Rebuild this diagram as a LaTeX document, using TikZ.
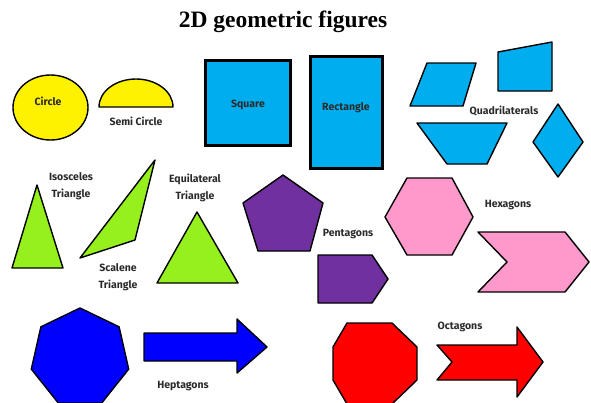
\documentclass[tikz,border=0pt]{standalone}
\usepackage{fontspec}
\setmainfont{Liberation Serif}
\newfontfamily\figfont{Fira Sans}
\definecolor{FIGyellow}{HTML}{FFF200}
\definecolor{FIGsky}{HTML}{00AEEF}
\definecolor{FIGlime}{HTML}{96F01E}
\definecolor{FIGpurple}{HTML}{7030A0}
\definecolor{FIGpink}{HTML}{FF99CC}
\definecolor{FIGblue}{HTML}{0000FF}
\definecolor{FIGred}{HTML}{FF0000}
\definecolor{FIGtext}{HTML}{2A2A2A}
\usetikzlibrary{positioning}

\begin{document}
\begin{tikzpicture}[x=1pt, y=-1pt,
      fig/.style={draw=black, line width=1.4pt, line join=round},
      thickfig/.style={fig, line width=3pt, line join=miter},
      lbl/.style={font=\figfont\bfseries\fontsize{10.5}{17}\selectfont, text=FIGtext, align=center, inner sep=1pt}]
      \useasboundingbox (0,0) rectangle (591,402);
      \clip (0,0) rectangle (591,402);
      % Title
      \node[font=\bfseries\fontsize{23.5}{26}\selectfont] (title) at (283,22) {2D geometric figures};
      % Row 1: circles and quadrilaterals
      \draw[fig, fill=FIGyellow] (50.5,107.5) ellipse [x radius=37.5pt, y radius=32.5pt];
      \draw[fig, fill=FIGyellow] (99,107) arc [start angle=180, end angle=0, x radius=37pt, y radius=28pt] -- cycle;
      \draw[thickfig, fill=FIGsky] (205,60) rectangle (290,145);
      \draw[thickfig, fill=FIGsky] (310,56) rectangle (382,168);
      \draw[fig, fill=FIGsky] (410,106) -- (427,63) -- (476,63) -- (463,106) -- cycle;
      \draw[fig, fill=FIGsky] (498,52) -- (552,42) -- (552,91) -- (498,91) -- cycle;
      \draw[fig, fill=FIGsky] (417,123) -- (507,123) -- (487,164) -- (447,164) -- cycle;
      \draw[fig, fill=FIGsky] (558,104) -- (583,142) -- (558,177) -- (533,142) -- cycle;
      \node[lbl] (circle) at (48,101) {Circle};
      \node[lbl] (semi) at (136,121) {Semi Circle};
      \node[lbl] (square) at (248,105) {Square};
      \node[lbl] (rect) at (346,108) {Rectangle};
      \node[lbl] (quad) at (504,111) {Quadrilaterals};
      % Row 2: triangles, pentagons, hexagons
      \draw[fig, fill=FIGlime] (37,185) -- (63,268) -- (12,268) -- cycle;
      \draw[fig, fill=FIGlime] (155,160) -- (135,240) -- (80,258) -- cycle;
      \draw[fig, fill=FIGlime] (197,212) -- (238,283) -- (157,283) -- cycle;
      \draw[fig, fill=FIGpurple] (283,175) -- (323,203) -- (310,251) -- (258,251) -- (243,203) -- cycle;
      \draw[fig, fill=FIGpurple] (318,255) -- (372,255) -- (388,279) -- (372,303) -- (318,303) -- cycle;
      \draw[fig, fill=FIGpink] (407,178) -- (452,178) -- (473,217) -- (452,255) -- (407,255) -- (385,217) -- cycle;
      \draw[fig, fill=FIGpink] (478,232) -- (565,232) -- (589,262) -- (565,292) -- (478,292) -- (507,262) -- cycle;
      \node[lbl] (iso) at (71,186) {Isosceles\\Triangle};
      \node[lbl] (scal) at (118,277) {Scalene\\Triangle};
      \node[lbl] (equi) at (195,188) {Equilateral\\Triangle};
      \node[lbl] (penta) at (348,234) {Pentagons};
      \node[lbl] (hexa) at (508,205) {Hexagons};
      % Row 3: heptagons and octagons
      \draw[fig, fill=FIGblue] (80,308) -- (119.1,326.8) -- (128.7,369.1) -- (101.7,403) -- (58.3,403) -- (31.3,369.1) -- (40.9,326.8) -- cycle;
      \draw[fig, fill=FIGblue] (144,333) -- (237,333) -- (237,319) -- (267,347) -- (237,373) -- (237,361) -- (144,361) -- cycle;
      \draw[fig, fill=FIGred] (347,323) -- (392,323) -- (417,347) -- (417,380) -- (392,404) -- (347,404) -- (333,380) -- (333,347) -- cycle;
      \draw[fig, fill=FIGred] (437,345) -- (517,345) -- (517,327) -- (543,362) -- (517,397) -- (517,380) -- (437,380) -- (452,362) -- cycle;
      \node[lbl] (hepta) at (183,386) {Heptagons};
      \node[lbl] (octa) at (460,327) {Octagons};
   \end{tikzpicture}
\end{document}
